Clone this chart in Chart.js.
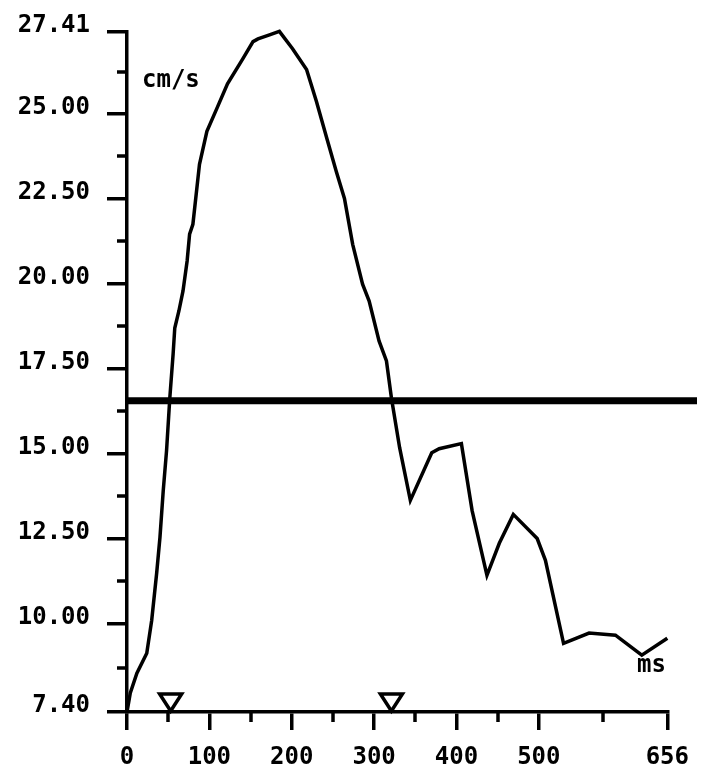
<!DOCTYPE html>
<html>
<head>
<meta charset="utf-8">
<script src="https://cdn.jsdelivr.net/npm/chart.js@4/dist/chart.umd.min.js"></script>
<style>
  body { margin: 0; background: #fff; }
  canvas { display: block; }
</style>
</head>
<body>
<canvas id="myChart" width="702" height="769"></canvas>
<script>
// VELOCITY CURVE (ms -> cm/s)
const timeMs = [0, 4, 12, 24, 30, 36, 40, 44, 48, 52, 56, 58, 63, 68, 73, 76, 80, 88, 97, 109,
  122, 140, 153, 159, 173, 185, 201, 218, 230, 243, 254, 264, 274, 286, 294, 306, 315, 321,
  331, 344, 370, 379, 406, 419, 437, 452, 469, 498, 508, 530, 561, 593, 625, 656];
const velocity = [7.40, 7.96, 8.54, 9.13, 10.10, 11.48, 12.53, 13.91, 15.08, 16.64, 17.93, 18.69,
  19.19, 19.78, 20.66, 21.45, 21.74, 23.50, 24.47, 25.14, 25.87, 26.58, 27.11, 27.19, 27.31,
  27.41, 26.90, 26.29, 25.35, 24.23, 23.30, 22.50, 21.15, 19.98, 19.48, 18.31, 17.72, 16.64,
  15.17, 13.62, 15.02, 15.14, 15.29, 13.32, 11.42, 12.36, 13.21, 12.50, 11.86, 9.42, 9.72,
  9.66, 9.07, 9.57];

// AXIS TICKS
const xTicks = [0, 100, 200, 300, 400, 500, 656];
const xMinorTicks = [50, 150, 250, 350, 450, 578];
const yTicks = [7.40, 10.00, 12.50, 15.00, 17.50, 20.00, 22.50, 25.00, 27.41];
const yMinorTicks = [8.70, 11.25, 13.75, 16.25, 18.75, 21.25, 23.75, 26.205];

// THRESHOLD + MARKERS
const threshold = 16.55;
const markerMs = [53, 321];

const labelFont = { family: 'DejaVu Sans Mono', size: 24, weight: 'bold' };

const extrasPlugin = {
  id: 'extras',
  afterDraw: (chart) => {
    const ctx = chart.ctx;
    const area = chart.chartArea;
    const x = chart.scales.x;
    const y = chart.scales.y;
    ctx.save();
    ctx.strokeStyle = '#000';
    ctx.fillStyle = '#000';
    ctx.lineWidth = 3.5;

    // minor ticks
    yMinorTicks.forEach((v) => {
      const py = Math.round(y.getPixelForValue(v));
      ctx.beginPath();
      ctx.moveTo(area.left - 10, py);
      ctx.lineTo(area.left, py);
      ctx.stroke();
    });
    xMinorTicks.forEach((v) => {
      const px = Math.round(x.getPixelForValue(v));
      ctx.beginPath();
      ctx.moveTo(px, area.bottom);
      ctx.lineTo(px, area.bottom + 10);
      ctx.stroke();
    });

    // threshold line
    const ty = y.getPixelForValue(threshold);
    ctx.lineWidth = 7;
    ctx.beginPath();
    ctx.moveTo(area.left, ty);
    ctx.lineTo(chart.width - 5, ty);
    ctx.stroke();

    // markers
    ctx.lineWidth = 3.5;
    markerMs.forEach((v) => {
      const px = x.getPixelForValue(v);
      ctx.beginPath();
      ctx.moveTo(px - 11, area.bottom - 18);
      ctx.lineTo(px + 11, area.bottom - 18);
      ctx.lineTo(px, area.bottom - 1);
      ctx.closePath();
      ctx.stroke();
    });

    // unit labels
    ctx.font = 'bold 24px "DejaVu Sans Mono"';
    ctx.textBaseline = 'middle';
    ctx.textAlign = 'left';
    ctx.fillText('cm/s', area.left + 15, 81);
    ctx.fillText('ms', 637, 666);
    ctx.restore();
  }
};

const ctx = document.getElementById('myChart');

const linechart = new Chart(ctx, {
  type: 'line',
  data: {
    datasets: [{
      data: timeMs.map((t, i) => ({ x: t, y: velocity[i] })),
      borderColor: '#000',
      borderWidth: 3.5,
      pointRadius: 0,
      tension: 0,
      fill: false,
      clip: false
    }]
  },
  options: {
    responsive: false,
    animation: false,
    devicePixelRatio: 1,
    layout: { padding: { top: 29, right: 33, left: 0, bottom: 0 } },
    plugins: {
      legend: { display: false },
      tooltip: { enabled: false }
    },
    scales: {
      x: {
        type: 'linear',
        min: 0,
        max: 656,
        afterBuildTicks: (scale) => { scale.ticks = xTicks.map((v) => ({ value: v })); },
        afterFit: (scale) => { scale.height = 57; },
        ticks: {
          autoSkip: false,
          maxRotation: 0,
          color: '#000',
          font: labelFont,
          padding: 13,
          callback: (v) => String(v)
        },
        grid: { drawOnChartArea: false, drawTicks: true, tickLength: 18, lineWidth: 3.5, color: '#000' },
        border: { display: true, width: 3.5, color: '#000' }
      },
      y: {
        min: 7.40,
        max: 27.41,
        afterBuildTicks: (scale) => { scale.ticks = yTicks.map((v) => ({ value: v })); },
        afterFit: (scale) => { scale.width = 127; },
        ticks: {
          autoSkip: false,
          color: '#000',
          font: labelFont,
          padding: 17,
          labelOffset: -6,
          callback: (v) => Number(v).toFixed(2)
        },
        grid: { drawOnChartArea: false, drawTicks: true, tickLength: 20, lineWidth: 3.5, color: '#000' },
        border: { display: true, width: 3.5, color: '#000' }
      }
    }
  },
  plugins: [extrasPlugin]
});
</script>
</body>
</html>
